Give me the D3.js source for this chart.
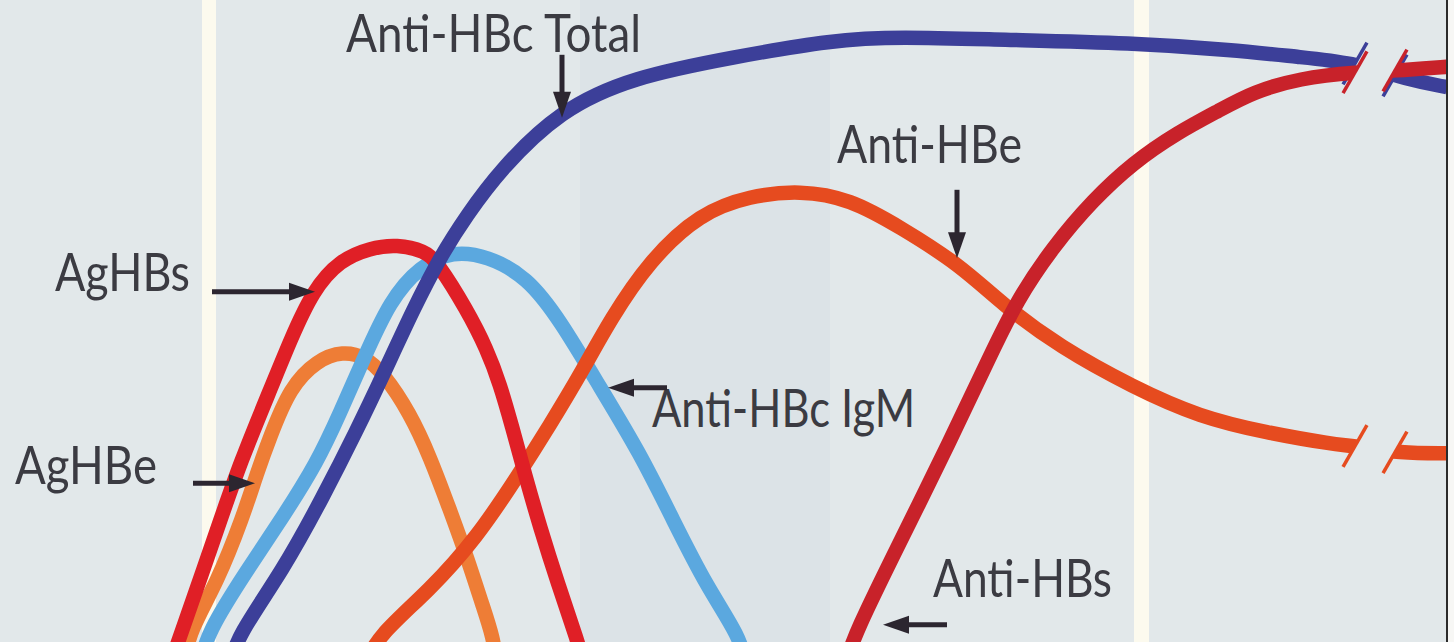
<!DOCTYPE html>
<html>
<head>
<meta charset="utf-8">
<script src="https://cdn.jsdelivr.net/npm/d3@7"></script>
<style>
  html, body { margin: 0; padding: 0; background: #fff; overflow: hidden; }
  text { font-family: Lato, "Open Sans", sans-serif; }
</style>
</head>
<body>
<script>
// Marker levels over time: [time, level]
const agHBs = [[17.0,-2.5],[18.0,2.2],[21.7,20.0],[24.0,31.2],[27.3,44.5],[29.0,51.5],[31.3,60.0],[34.0,65.0],[37.0,67.0],[39.7,67.6],[42.5,66.5],[43.7,64.7],[46.7,56.7],[48.7,50.1],[50.0,44.3],[51.2,37.3],[52.5,29.2],[54.0,20.5],[55.8,11.0],[57.8,1.3],[58.4,-2.5]];
const agHBe = [[18.3,-2.5],[19.0,3.3],[21.7,11.2],[24.3,22.2],[25.7,29.5],[27.0,35.5],[29.0,43.8],[31.7,48.3],[34.3,49.8],[36.5,48.9],[38.3,46.2],[41.0,39.5],[43.0,32.2],[45.0,23.3],[46.7,15.5],[48.3,7.2],[49.3,2.2],[49.7,-2.5]];
const antiHBcIgM = [[20.0,-2.5],[20.7,2.8],[24.7,13.3],[28.3,22.2],[31.7,31.2],[34.0,39.5],[36.3,48.3],[39.0,58.3],[42.0,64.0],[45.3,66.5],[48.7,65.7],[52.7,62.2],[56.0,55.0],[60.0,43.8],[64.0,32.8],[67.3,21.7],[70.7,10.5],[74.0,2.2],[74.6,-2.5]];
const antiHBcTotal = [[23.0,-2.5],[23.7,2.2],[28.3,13.3],[32.3,25.5],[35.7,36.7],[38.3,45.8],[41.3,56.7],[44.0,65.5],[46.7,72.5],[50.0,80.0],[56.0,90.0],[63.3,95.5],[73.3,98.8],[83.3,101.7],[90.0,102.2],[100.0,101.7],[113.3,101.2],[123.3,100.0],[130.0,98.8],[135.0,98.0],[141.0,95.0],[144.7,93.8]];
const antiHBe = [[36.5,-2.5],[37.7,2.2],[43.0,10.0],[47.7,18.8],[51.7,28.8],[55.0,37.5],[58.3,46.7],[61.0,55.0],[65.0,65.0],[70.0,72.8],[75.0,75.7],[80.0,76.6],[85.0,75.2],[90.0,70.5],[96.0,64.2],[100.3,57.5],[106.0,50.5],[113.3,43.8],[120.0,38.8],[126.7,36.2],[133.3,34.3],[135.5,34.0],[140.0,32.8],[144.7,32.8]];
const antiHBs = [[84.5,-2.5],[85.5,2.8],[90.0,18.0],[95.0,34.8],[99.0,49.0],[101.7,58.3],[105.3,67.2],[109.3,75.0],[113.3,81.2],[117.7,86.2],[122.0,90.0],[125.3,93.0],[130.0,95.3],[135.5,96.3],[141.0,96.7],[144.7,97.2]];

// Names and colours, in drawing order
const names  = ["AgHBe", "Anti-HBc IgM", "Anti-HBe", "AgHBs", "Anti-HBc Total", "Anti-HBs"];
const values = [agHBe, antiHBcIgM, antiHBe, agHBs, antiHBcTotal, antiHBs];
const colors = ["#ee7d36", "#5ba8df", "#e64b1f", "#e01f26", "#3c3f99", "#c8222a"];

// Labels: text, start (time, level), arrow tail and tip
const labelText  = ["Anti-HBc Total", "AgHBs", "AgHBe", "Anti-HBc IgM", "Anti-HBe", "Anti-HBs"];
const labelAt    = [[34.6, 99.7], [5.5, 59.8], [1.5, 27.7], [65.2, 37.2], [83.7, 81.2], [93.3, 8.8]];
const labelWidth = [295, 135, 142, 263, 185, 179];
const arrowFrom  = [[56.2, 99.2], [21.2, 59.7], [19.3, 27.8], [66.7, 43.7], [95.7, 76.7], [94.7, 4.2]];
const arrowTo    = [[56.2, 88.7], [31.5, 59.7], [25.5, 27.8], [60.8, 43.7], [95.7, 65.3], [88.3, 4.2]];

// Time axis break and end
const breakStart = 135.5, breakEnd = 139.5, endTime = 144.6;

const W = 1454, H = 642;

const svg = d3.select("body").append("svg")
    .attr("width", W)
    .attr("height", H);

const x = d3.scaleLinear().domain([0, 145]).range([0, 1450]);
const y = d3.scaleLinear().domain([0, 100]).range([650, 50]);

// Background
svg.append("rect").attr("width", W).attr("height", H).attr("fill", "#e2e8ea");
svg.append("rect")
    .attr("x", x(58)).attr("width", x(83) - x(58))
    .attr("y", 0).attr("height", H)
    .attr("fill", "#dce3e7");
[[20.2, 21.6], [113.4, 114.9]].forEach(s => {
  svg.append("rect")
      .attr("x", x(s[0])).attr("width", x(s[1]) - x(s[0]))
      .attr("y", 0).attr("height", H)
      .attr("fill", "#fcfaee");
});

const line = d3.line()
    .x(d => x(d[0]))
    .y(d => y(d[1]))
    .curve(d3.curveBasis);

const bis = d3.bisector(d => d[0]).left;
function valueAt(vals, t) {
  const i = Math.max(1, Math.min(vals.length - 1, bis(vals, t)));
  const a = vals[i - 1], b = vals[i];
  return a[1] + (t - a[0]) / (b[0] - a[0]) * (b[1] - a[1]);
}

// slash direction (dx per dy)
const k = 27 / 47;
const ux = 27 / Math.hypot(27, 47), uy = -47 / Math.hypot(27, 47);
const defs = svg.append("defs");
const g = svg.append("g");

values.forEach((vals, i) => {
  const px1 = x(breakStart), py1 = y(valueAt(vals, breakStart));
  const px2 = x(breakEnd),   py2 = y(valueAt(vals, breakEnd));
  const xe = x(endTime);

  const clip = defs.append("clipPath").attr("id", "clip" + i);
  clip.append("polygon").attr("points", [
    [-10, -10], [px1 + (py1 + 10) * k, -10], [px1 - (H + 10 - py1) * k, H + 10], [-10, H + 10]
  ].join(" "));
  clip.append("polygon").attr("points", [
    [px2 + (py2 + 10) * k, -10], [xe, -10], [xe, H + 10], [px2 - (H + 10 - py2) * k, H + 10]
  ].join(" "));

  g.append("path")
      .attr("d", line(vals))
      .attr("clip-path", "url(#clip" + i + ")")
      .attr("fill", "none")
      .attr("stroke", colors[i])
      .attr("stroke-width", 14.5)
      .attr("stroke-linecap", "butt")
      .attr("stroke-linejoin", "round");

  // break slashes
  [[px1, py1], [px2, py2]].forEach(p => {
    g.append("line")
        .attr("x1", p[0] - ux * 24).attr("y1", p[1] - uy * 24)
        .attr("x2", p[0] + ux * 24).attr("y2", p[1] + uy * 24)
        .attr("stroke", colors[i])
        .attr("stroke-width", 3.5);
  });
});

// Right border
svg.append("rect").attr("x", x(endTime) + 1).attr("y", 0).attr("width", W).attr("height", H).attr("fill", "#f7f7f5");
svg.append("line")
    .attr("x1", x(endTime) + 1).attr("x2", x(endTime) + 1)
    .attr("y1", 0).attr("y2", H)
    .attr("stroke", "#2b2b2b")
    .attr("stroke-width", 2);

// Labels
labelText.forEach((t, i) => {
  svg.append("text")
      .attr("x", x(labelAt[i][0]))
      .attr("y", y(labelAt[i][1]))
      .attr("font-size", "52px")
      .attr("fill", "#3b3b42")
      .attr("textLength", labelWidth[i])
      .attr("lengthAdjust", "spacingAndGlyphs")
      .text(t);
});

// Arrows
arrowFrom.forEach((a, i) => {
  const x1 = x(a[0]), y1 = y(a[1]);
  const x2 = x(arrowTo[i][0]), y2 = y(arrowTo[i][1]);
  const len = Math.hypot(x2 - x1, y2 - y1);
  const dx = (x2 - x1) / len, dy = (y2 - y1) / len;
  const head = 26, half = 9;
  const bx = x2 - dx * head, by = y2 - dy * head;
  svg.append("line")
      .attr("x1", x1).attr("y1", y1)
      .attr("x2", bx + dx * 2).attr("y2", by + dy * 2)
      .attr("stroke", "#2c2630")
      .attr("stroke-width", 5);
  svg.append("polygon")
      .attr("points", [[x2, y2], [bx - dy * half, by + dx * half], [bx + dy * half, by - dx * half]].join(" "))
      .attr("fill", "#2c2630");
});
</script>
</body>
</html>
